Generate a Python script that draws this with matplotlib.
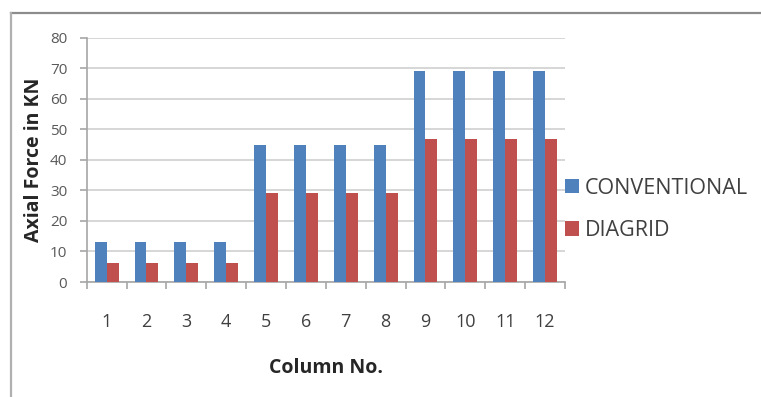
import matplotlib
matplotlib.use("Agg")
import matplotlib.pyplot as plt
from matplotlib.lines import Line2D
import numpy as np

columns = ["1", "2", "3", "4", "5", "6", "7", "8", "9", "10", "11", "12"]
conventional = [13, 13, 13, 13, 45, 45, 45, 45, 69, 69, 69, 69]
diagrid = [6.3, 6.3, 6.3, 6.3, 29, 29, 29, 29, 46.7, 46.7, 46.7, 46.7]
y_ticks = [0, 10, 20, 30, 40, 50, 60, 70, 80]

plt.rcParams["font.family"] = ["Open Sans", "DejaVu Sans"]

W, H = 761, 397
fig = plt.figure(figsize=(W / 100, H / 100), dpi=100)
fig.patch.set_facecolor("white")

# chart frame (top and left edges)
fig.add_artist(Line2D([11 / W, 1.0], [1 - 13 / H, 1 - 13 / H], color="#8c8c8c", lw=1.6,
                      transform=fig.transFigure))
fig.add_artist(Line2D([11 / W, 11 / W], [0.0, 1 - 13 / H], color="#b0b0b0", lw=1.6,
                      transform=fig.transFigure))

left, right = 86.7 / W, 565 / W
bottom, top = 1 - 282 / H, 1 - 37.7 / H
ax = fig.add_axes([left, bottom, right - left, top - bottom])

x = np.arange(len(columns))
bw = 0.3
ax.bar(x - bw / 2, conventional, bw, color="#4f81bd", label="CONVENTIONAL", zorder=3)
ax.bar(x + bw / 2, diagrid, bw, color="#c0504d", label="DIAGRID", zorder=3)

ax.set_xlim(-0.5, len(columns) - 0.5)
ax.set_ylim(0, 80)
ax.set_yticks(y_ticks)
ax.yaxis.grid(True, color="#d0d0d0", lw=1.2, zorder=0)
ax.set_axisbelow(True)

for s in ["top", "right"]:
    ax.spines[s].set_visible(False)
for s in ["left", "bottom"]:
    ax.spines[s].set_color("#a6a6a6")
    ax.spines[s].set_linewidth(1.2)

ax.tick_params(axis="y", colors="#a6a6a6", labelcolor="#595959", labelsize=11,
               length=5, width=1.2, direction="out", pad=9)

# category boundary ticks, labels centred in each category
ax.set_xticks(np.arange(len(columns) + 1) - 0.5)
ax.set_xticklabels([])
ax.set_xticks(x, minor=True)
ax.set_xticklabels(columns, minor=True, fontsize=13, color="#404040")
ax.tick_params(axis="x", which="major", colors="#a6a6a6", length=5, width=1.2)
ax.tick_params(axis="x", which="minor", length=0, pad=22)

ax.set_xlabel("Column No.", fontsize=14, fontweight="bold", color="#262626", labelpad=20)
ax.set_ylabel("Axial Force in KN", fontsize=14, fontweight="bold", color="#262626", labelpad=4)

ax.legend(loc="center left", bbox_to_anchor=(0.99, 0.297), frameon=False, fontsize=15.5,
          handlelength=0.65, handleheight=0.65, handletextpad=0.3, labelspacing=1.0,
          borderaxespad=0.0, borderpad=0.2, labelcolor="#404040")

fig.savefig("out.png", dpi=100, facecolor="white")
